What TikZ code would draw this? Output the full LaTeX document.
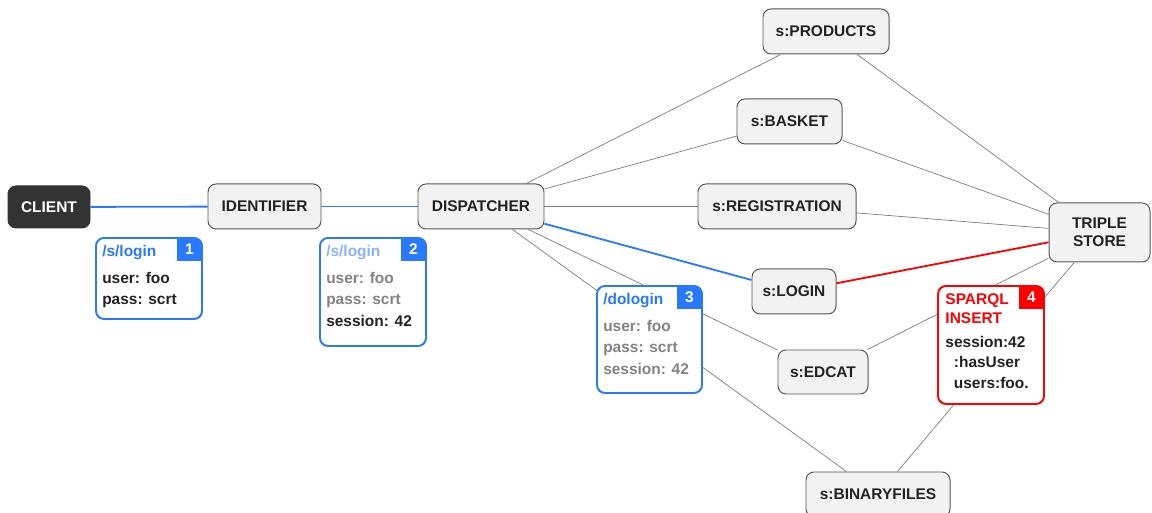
\documentclass[tikz,border=0pt]{standalone}
\usepackage{fontspec}
\setmainfont{Liberation Sans}
\usepackage{tikz}

\definecolor{loginblue}{RGB}{41,121,255}
\definecolor{lightblue}{RGB}{138,180,248}
\definecolor{insertred}{RGB}{255,0,0}
\definecolor{bodygray}{RGB}{130,130,130}
\definecolor{boxfill}{RGB}{242,242,242}
\definecolor{boxline}{RGB}{85,85,85}
\definecolor{clientfill}{RGB}{51,51,51}
\definecolor{linkgray}{RGB}{125,125,125}
\definecolor{darktext}{RGB}{34,34,34}

\tikzset{
  service/.style={rectangle, rounded corners=0.2cm, draw=boxline, line width=0.7pt, fill=boxfill,
    minimum height=1.125cm, inner xsep=2pt, align=center, text=darktext,
    font=\fontsize{11}{13}\selectfont\bfseries},
  client/.style={service, fill=clientfill, draw=clientfill, text=white},
  link/.style={draw=linkgray, line width=0.5pt},
  flow/.style={draw=loginblue, line width=1.3pt},
  insert/.style={draw=insertred, line width=1.3pt},
  note/.style={rectangle, rounded corners=0.2cm, draw=#1, line width=1.4pt, fill=white,
    anchor=north west, minimum width=2.65cm, inner sep=0pt, outer sep=0pt},
  notetext/.style={anchor=north west, inner sep=0pt, align=left, text=darktext,
    font=\fontsize{11}{15.3}\selectfont\bfseries},
  tabnum/.style={text=white, inner sep=0pt, font=\fontsize{11}{13}\selectfont\bfseries},
}

% corner tab with the step number
\newcommand{\notetab}[3]{%
  \begin{scope}
    \clip[rounded corners=0.2cm] (#1.south west) rectangle (#1.north east);
    \fill[#2] (#1.north east) rectangle ++(-0.625,-0.575);
  \end{scope}
  \node[tabnum] (#1num) at ([xshift=-0.3125cm, yshift=-0.2875cm]#1.north east) {#3};
}

\begin{document}
\begin{tikzpicture}
    \useasboundingbox (0,0) rectangle (28.8,12.825);

    % Services
    \node[client, minimum width=2.05cm, minimum height=1.05cm] (CLIENT) at (1.225, 7.65) {CLIENT};
    \node[service, minimum width=2.825cm] (IDENT) at (6.6125, 7.6625) {IDENTIFIER};
    \node[service, minimum width=3.15cm] (DISP) at (12.025, 7.6625) {DISPATCHER};
    \node[service, minimum width=3.15cm] (PROD) at (20.65, 12.0375) {s:PRODUCTS};
    \node[service, minimum width=2.625cm] (BASKET) at (19.7375, 9.7875) {s:BASKET};
    \node[service, minimum width=3.95cm] (REG) at (19.425, 7.6625) {s:REGISTRATION};
    \node[service, minimum width=2.1cm] (LOGIN) at (19.85, 5.5375) {s:LOGIN};
    \node[service, minimum width=2.25cm, minimum height=1.1cm] (EDCAT) at (20.575, 3.525) {s:EDCAT};
    \node[service, minimum width=3.6cm] (BIN) at (21.95, 0.4625) {s:BINARYFILES};
    \node[service, minimum width=2.525cm, minimum height=1.475cm] (STORE) at (27.4875, 7.0125) {TRIPLE\\STORE};

    % Connections
    \draw[flow] (CLIENT) -- (IDENT);
    \draw[flow] (IDENT) -- (DISP);
    \draw[flow] (DISP) -- (LOGIN);
    \draw[insert] (LOGIN) -- (STORE);
    \foreach \svc in {PROD,BASKET,REG,EDCAT,BIN} {
        \draw[link] (DISP) -- (\svc);
        \draw[link] (\svc) -- (STORE);
    }

    % Request notes
    \node[note=loginblue, minimum height=2.025cm] (N1) at (2.4, 6.875) {};
    \notetab{N1}{loginblue}{1}
    \node[notetext] (T1) at ([xshift=0.15cm, yshift=-0.13cm]N1.north west)
        {{\color{loginblue}\rule{0pt}{9pt}/s/login}\\[3.9pt] user: foo\\ pass: scrt};

    \node[note=loginblue, minimum height=2.7cm] (N2) at (8.0, 6.875) {};
    \notetab{N2}{loginblue}{2}
    \node[notetext] (T2) at ([xshift=0.15cm, yshift=-0.13cm]N2.north west)
        {{\color{lightblue}\rule{0pt}{9pt}/s/login}\\[3.9pt] {\color{bodygray}user: foo}\\ {\color{bodygray}pass: scrt}\\ session: 42};

    \node[note=loginblue, minimum width=2.625cm, minimum height=2.675cm] (N3) at (14.925, 5.675) {};
    \notetab{N3}{loginblue}{3}
    \node[notetext, text=bodygray] (T3) at ([xshift=0.15cm, yshift=-0.13cm]N3.north west)
        {{\color{loginblue}\rule{0pt}{9pt}/dologin}\\[3.9pt] user: foo\\ pass: scrt\\ session: 42};

    \node[note=insertred, minimum height=2.95cm] (N4) at (23.45, 5.675) {};
    \notetab{N4}{insertred}{4}
    \node[notetext, font=\fontsize{11}{14.6}\selectfont\bfseries] (T4) at ([xshift=0.18cm, yshift=-0.13cm]N4.north west)
        {{\color{insertred}\rule{0pt}{9pt}SPARQL}\\[-1.1pt] {\color{insertred}INSERT}\\[2.4pt] session:42\\ \hspace{6pt}:hasUser\\ \hspace{6pt}users:foo.};
\end{tikzpicture}
\end{document}
